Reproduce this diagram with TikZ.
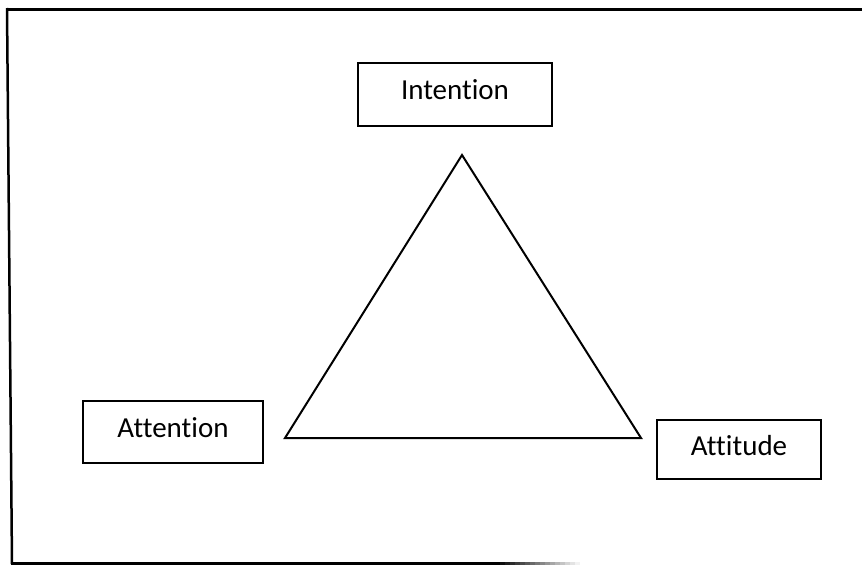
\documentclass[tikz,border=0pt]{standalone}
\usepackage{fontspec}
\setmainfont{Carlito}[Ligatures=NoCommon]
\usetikzlibrary{positioning}

\begin{document}
\begin{tikzpicture}[x=1pt,y=-1pt,
  box/.style={draw,line width=2pt,inner sep=0pt,text depth=9pt,font=\fontsize{29}{34}\selectfont},
  edge/.style={line width=2pt,line join=miter}]
\useasboundingbox (0,0) rectangle (862,565);
% frame
\draw[line width=2.5pt] (6,9.5) -- (862,9.5);
\draw[line width=2.5pt] (7,8) -- (12,564);
\draw[line width=2.5pt] (11,563.5) -- (500,563.5);
\foreach \i in {0,...,15}
  \draw[line width=2.5pt,black!\the\numexpr 95-\i*6\relax] (500+\i*5,563.5) -- (505+\i*5,563.5);
% labels
\node[box,minimum width=194pt,minimum height=63pt] (intention) at (455,94.5) {Intention};
\node[box,minimum width=180pt,minimum height=62pt] (attention) at (173,432) {Attention};
\node[box,minimum width=164pt,minimum height=59pt] (attitude) at (739,449.5) {Attitude};
% triangle
\coordinate (apex) at (462,155);
\coordinate (base l) at (285,438);
\coordinate (base r) at (641,438);
\draw[edge] (apex) -- (base l) -- (base r) -- cycle;
\end{tikzpicture}
\end{document}
